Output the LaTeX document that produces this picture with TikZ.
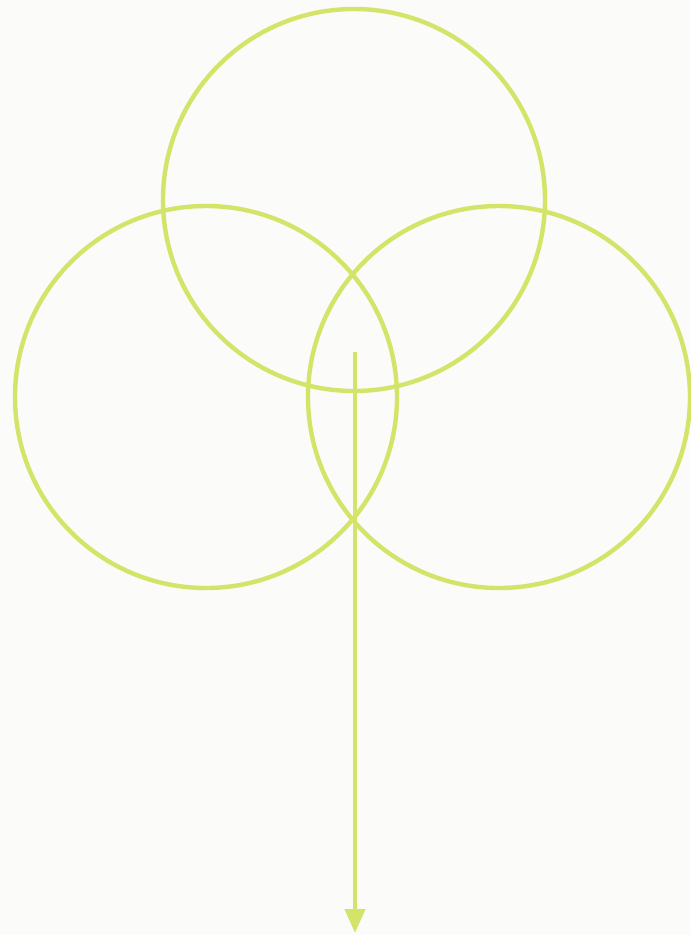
\documentclass[tikz,border=0pt]{standalone}
\usetikzlibrary{arrows.meta}
\definecolor{ringlime}{RGB}{212,228,104}
\definecolor{ringpaper}{RGB}{251,251,250}

\begin{document}
\begin{tikzpicture}[x=0.75pt,y=-0.75pt,
  ring/.style={draw=ringlime,line width=3.3pt,circle,minimum size=286.5pt,inner sep=0pt,outer sep=0pt}]
  \fill[ringpaper] (0,0) rectangle (690,935);
  \useasboundingbox (0,0) rectangle (690,935);

  \node[ring] (top) at (354,200) {};
  \node[ring] (left) at (206,397) {};
  \node[ring] (right) at (499,397) {};

  \coordinate (stem) at (355,352);
  \coordinate (tip) at (355,933);
  \draw[ringlime,line width=3.3pt,-{Triangle[width=15pt,length=18pt]}] (stem) -- (tip);
\end{tikzpicture}
\end{document}
